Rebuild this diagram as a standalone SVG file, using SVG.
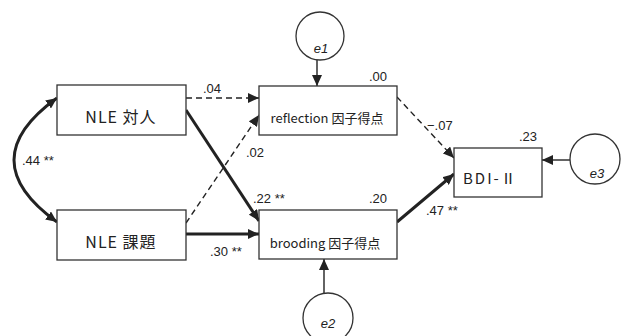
<svg xmlns="http://www.w3.org/2000/svg" width="624" height="336" viewBox="0 0 624 336">
<defs>
<style>
.box{fill:#fff;stroke:#333;stroke-width:1.3}
.err{fill:#fff;stroke:#333;stroke-width:1.3}
.thin{fill:none;stroke:#222;stroke-width:1.4}
.dash{fill:none;stroke:#222;stroke-width:1.4;stroke-dasharray:6 4}
.thick{fill:none;stroke:#222;stroke-width:3}
.lbl{font-family:"Noto Sans CJK JP","Noto Sans",sans-serif;fill:#222}
.num{font-family:"Liberation Sans",Arial,sans-serif;font-size:13px;fill:#222}
.e{font-family:"Liberation Sans",Arial,sans-serif;font-size:13px;font-style:italic;fill:#222;text-anchor:middle}
</style>
<marker id="ah" markerUnits="userSpaceOnUse" markerWidth="12" markerHeight="10" refX="11" refY="5" orient="auto">
<path d="M0,0 L11,5 L0,10 z" fill="#222"/>
</marker>
<marker id="ahs" markerUnits="userSpaceOnUse" markerWidth="12" markerHeight="10" refX="1" refY="5" orient="auto">
<path d="M12,0 L1,5 L12,10 z" fill="#222"/>
</marker>
</defs>
<g id="connectors">
<path class="thick" d="M57,98 Q-29,160 57,222" marker-start="url(#ahs)" marker-end="url(#ah)"/>
<line class="dash" x1="186" y1="98" x2="259" y2="98" marker-end="url(#ah)"/>
<line class="dash" x1="186" y1="223" x2="259" y2="115" marker-end="url(#ah)"/>
<line class="thick" x1="186" y1="110" x2="259" y2="221" marker-end="url(#ah)"/>
<line class="thick" x1="186" y1="234" x2="259" y2="234" marker-end="url(#ah)"/>
<line class="dash" x1="397" y1="97" x2="454" y2="158" marker-end="url(#ah)"/>
<line class="thick" x1="397" y1="222" x2="454" y2="174" marker-end="url(#ah)"/>
<line class="thin" x1="317" y1="60" x2="317" y2="86" marker-end="url(#ah)"/>
<line class="thin" x1="324" y1="293" x2="324" y2="259" marker-end="url(#ah)"/>
<line class="thin" x1="570" y1="160" x2="542" y2="160" marker-end="url(#ah)"/>
</g>
<g id="nle-taijin">
<rect class="box" x="57" y="85" width="129" height="50"/>
<text class="lbl" x="121" y="123" font-size="16" text-anchor="middle" letter-spacing="1">NLE 対人</text>
</g>
<g id="nle-kadai">
<rect class="box" x="57" y="210" width="129" height="50"/>
<text class="lbl" x="121" y="248" font-size="16" text-anchor="middle" letter-spacing="1">NLE 課題</text>
</g>
<g id="reflection">
<rect class="box" x="259" y="86" width="138" height="49"/>
<text class="lbl" x="327" y="123" font-size="13" text-anchor="middle">reflection 因子得点</text>
</g>
<g id="brooding">
<rect class="box" x="259" y="210" width="138" height="49"/>
<text class="lbl" x="325" y="248" font-size="13" text-anchor="middle">brooding 因子得点</text>
</g>
<g id="bdi">
<rect class="box" x="454" y="148" width="88" height="49"/>
<text class="lbl" x="463" y="184" font-size="15" letter-spacing="2">BDI-Ⅱ</text>
</g>
<g id="e1">
<circle class="err" cx="320" cy="36" r="24"/>
<text class="e" x="321" y="53">e1</text>
</g>
<g id="e2">
<circle class="err" cx="328" cy="318" r="25"/>
<text class="e" x="328" y="328">e2</text>
</g>
<g id="e3">
<circle class="err" cx="595" cy="159" r="25"/>
<text class="e" x="597" y="178">e3</text>
</g>
<g id="labels">
<text class="num" x="203" y="93">.04</text>
<text class="num" x="369" y="81">.00</text>
<text class="num" x="519" y="141">.23</text>
<text class="num" x="427" y="130">−.07</text>
<text class="num" x="246" y="157">.02</text>
<text class="num" x="253" y="203">.22 **</text>
<text class="num" x="369" y="203">.20</text>
<text class="num" x="426" y="215">.47 **</text>
<text class="num" x="210" y="256">.30 **</text>
<text class="num" x="22" y="165">.44 **</text>
</g>
</svg>
